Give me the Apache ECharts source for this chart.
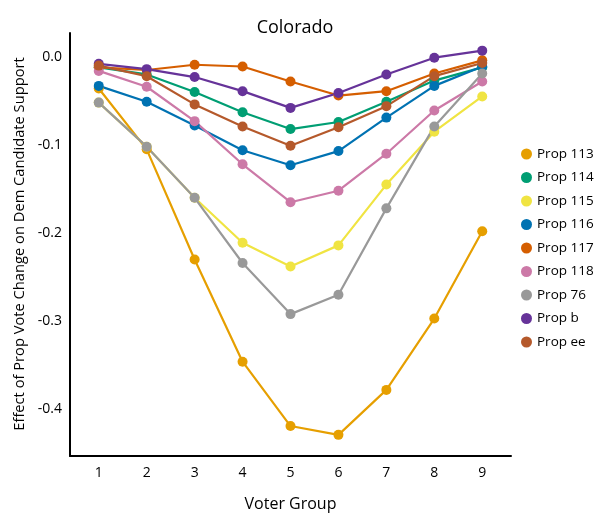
<!DOCTYPE html>
<html>
<head>
<meta charset="utf-8">
<script src="https://cdn.jsdelivr.net/npm/echarts@6/dist/echarts.min.js"></script>
<style>
  html, body { margin: 0; padding: 0; background: #fff; }
  #chart { width: 600px; height: 525px; }
</style>
</head>
<body>
<div id="chart"></div>
<script>
  // voter groups on the x axis
  var groups = [1, 2, 3, 4, 5, 6, 7, 8, 9];
  var yTicks = [0, -0.1, -0.2, -0.3, -0.4];

  var prop113 = [-0.036, -0.105, -0.230, -0.346, -0.419, -0.429, -0.378, -0.297, -0.198];
  var prop114 = [-0.012, -0.020, -0.040, -0.063, -0.082, -0.074, -0.051, -0.027, -0.012];
  var prop115 = [-0.052, -0.102, -0.160, -0.211, -0.238, -0.214, -0.145, -0.085, -0.045];
  var prop116 = [-0.033, -0.051, -0.078, -0.106, -0.123, -0.107, -0.069, -0.033, -0.011];
  var prop117 = [-0.012, -0.015, -0.009, -0.011, -0.028, -0.044, -0.039, -0.019, -0.004];
  var prop118 = [-0.016, -0.034, -0.073, -0.122, -0.165, -0.152, -0.110, -0.061, -0.028];
  var prop76  = [-0.052, -0.102, -0.160, -0.234, -0.292, -0.270, -0.172, -0.079, -0.019];
  var propB   = [-0.008, -0.014, -0.023, -0.039, -0.058, -0.041, -0.020, -0.001, 0.007];
  var propEE  = [-0.010, -0.022, -0.054, -0.079, -0.101, -0.080, -0.056, -0.022, -0.007];

  var names  = ['Prop 113', 'Prop 114', 'Prop 115', 'Prop 116', 'Prop 117', 'Prop 118', 'Prop 76', 'Prop b', 'Prop ee'];
  var colors = ['#E69F00', '#009E73', '#F0E442', '#0072B2', '#D55E00', '#CC79A7', '#999999', '#663399', '#B5592B'];
  var values = [prop113, prop114, prop115, prop116, prop117, prop118, prop76, propB, propEE];

  var font = 'Open Sans';

  var series = names.map(function (n, i) {
    return {
      name: n,
      type: 'line',
      data: groups.map(function (g, j) { return [g, values[i][j]]; }),
      symbol: 'circle',
      symbolSize: 10,
      lineStyle: { width: 2.2, color: colors[i] },
      itemStyle: { color: colors[i] },
      emphasis: { disabled: true }
    };
  });

  var myChart = echarts.init(document.getElementById('chart'));
  myChart.setOption({
    animation: false,
    color: colors,
    title: {
      text: 'Colorado',
      left: 290,
      textAlign: 'center',
      top: 14,
      textStyle: { fontFamily: font, fontSize: 18, fontWeight: 500, color: '#000' }
    },
    legend: {
      orient: 'vertical',
      left: 516,
      top: 142,
      icon: 'circle',
      itemWidth: 11,
      itemHeight: 11,
      itemGap: 9.5,
      textStyle: { fontFamily: font, fontSize: 13.5, color: '#000' },
      data: names
    },
    // y axis title, placed by hand so it sits where the original has it
    graphic: [{
      type: 'text',
      x: 20,
      y: 244,
      rotation: Math.PI / 2,
      style: {
        text: 'Effect of Prop Vote Change on Dem Candidate Support',
        fontFamily: font,
        fontSize: 14.7,
        fill: '#000',
        align: 'center',
        verticalAlign: 'middle'
      }
    }],
    grid: { left: 70, right: 89, top: 33, bottom: 69 },
    xAxis: {
      type: 'value',
      min: 0.4,
      max: 9.6,
      name: 'Voter Group',
      nameLocation: 'middle',
      nameGap: 40,
      nameTextStyle: { fontFamily: font, fontSize: 16, color: '#000' },
      axisLine: { onZero: false, lineStyle: { color: '#000', width: 2 } },
      axisTick: { show: false },
      splitLine: { show: false },
      axisLabel: {
        customValues: groups,
        fontFamily: font, fontSize: 14, color: '#000', margin: 10
      }
    },
    yAxis: {
      type: 'value',
      min: -0.453,
      max: 0.027,
      axisLine: { show: true, onZero: false, lineStyle: { color: '#000', width: 2 } },
      axisTick: { show: false },
      splitLine: { show: false },
      axisLabel: {
        customValues: yTicks,
        formatter: function (v) { return v.toFixed(1); },
        fontFamily: font, fontSize: 14, color: '#000', margin: 8
      }
    },
    series: series
  });
</script>
</body>
</html>
